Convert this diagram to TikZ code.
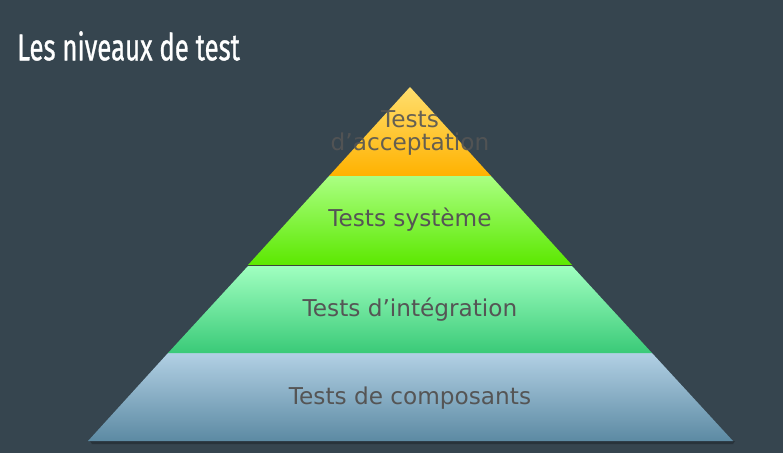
\documentclass[tikz,border=0pt]{standalone}
\usepackage{fontspec}
\setmainfont{DejaVu Sans}
\newfontfamily\titlefont[FakeBold=1]{Fira Sans}
\usepackage{tikz}

\definecolor{slide}{RGB}{54,69,79}
\definecolor{lbl}{RGB}{85,85,85}
\tikzset{layerlabel/.style={inner sep=0.75pt, text=lbl, font=\fontsize{17.4}{17.5}\selectfont}}

\begin{document}
\begin{tikzpicture}[x=0.75pt,y=0.75pt,yscale=-1,xscale=1]
\useasboundingbox (0,0) rectangle (783,453);
%Background
\fill [color=slide] (0,0) rectangle (783,453);
%Shadow under base
\fill [color=black, opacity=0.25] (90,441) -- (735,441) -- (733,444) -- (92,444) -- cycle;
%Layer: components
\shade [top color={rgb, 255:red, 178; green, 208; blue, 228}, bottom color={rgb, 255:red, 92; green, 138; blue, 163}] (168,353) -- (652,353) -- (733,441) -- (88,441) -- cycle;
%Layer: integration
\shade [top color={rgb, 255:red, 160; green, 255; blue, 192}, bottom color={rgb, 255:red, 58; green, 202; blue, 120}] (248,266) -- (572,266) -- (652,353) -- (168,353) -- cycle;
%Layer: system
\shade [top color={rgb, 255:red, 170; green, 255; blue, 130}, bottom color={rgb, 255:red, 92; green, 232; blue, 0}] (329,176) -- (491,176) -- (572,265) -- (248,265) -- cycle;
%Straight Lines
\draw [color={rgb, 255:red, 60; green, 70; blue, 60}, line width=1.2] (248,265.5) -- (572,265.5);
%Layer: acceptance
\shade [top color={rgb, 255:red, 255; green, 222; blue, 110}, bottom color={rgb, 255:red, 255; green, 178; blue, 0}] (410,87) -- (491,176) -- (329,176) -- cycle;
% Text Node
\draw (17,46) node (title) [anchor=west, inner sep=0pt, text=white] {\scalebox{0.69}[1]{\titlefont\fontsize{28}{32}\selectfont Les niveaux de test}};
% Text Node
\draw (410,133) node (accept) [layerlabel, align=center, opacity=0.9] {Tests\\d’acceptation};
% Text Node
\draw (410,220) node (system) [layerlabel] {Tests système};
% Text Node
\draw (410,310) node (integ) [layerlabel] {Tests d’intégration};
% Text Node
\draw (410,398) node (compo) [layerlabel] {Tests de composants};
\end{tikzpicture}
\end{document}
